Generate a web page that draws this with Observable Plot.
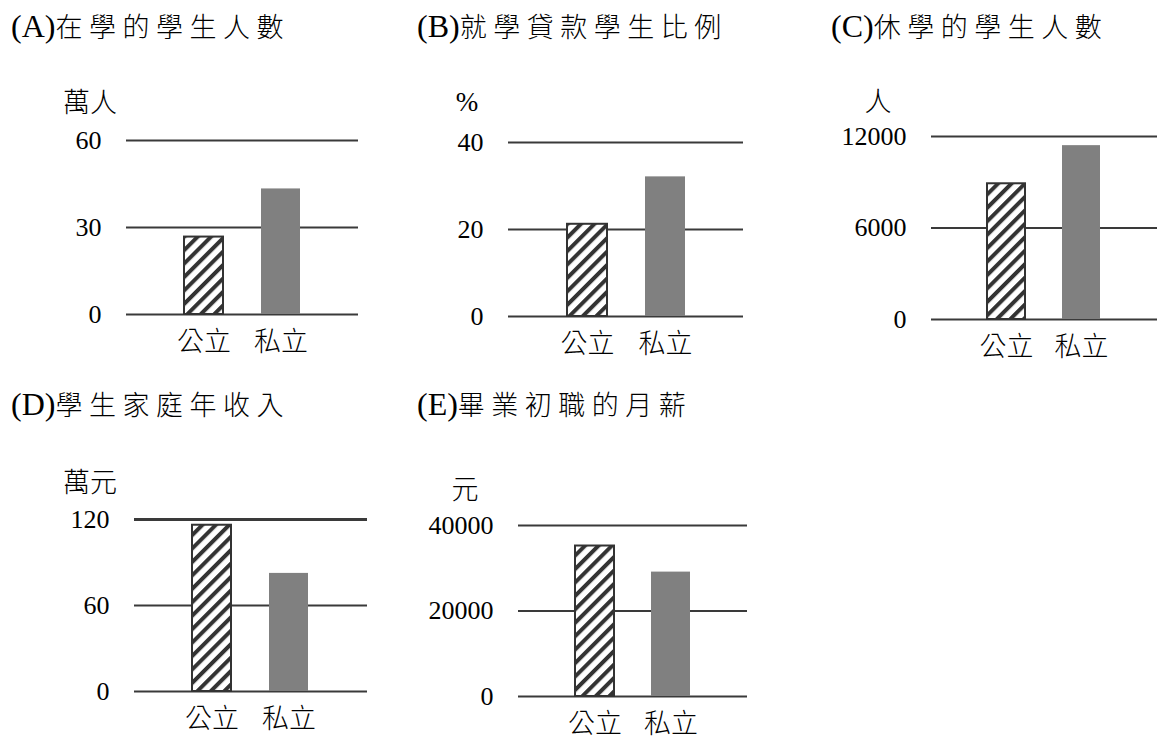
<!DOCTYPE html>
<html>
<head>
<meta charset="utf-8">
<script src="https://cdn.jsdelivr.net/npm/d3@7"></script>
<script src="https://cdn.jsdelivr.net/npm/@observablehq/plot@0.6"></script>
<style>
  html, body { margin: 0; padding: 0; background: #fff; }
  body { width: 1169px; height: 747px; position: relative; overflow: hidden; }
  .abs { position: absolute; white-space: nowrap; color: #000; }
  .title { line-height: 34px; }
  .title .pre { font-family: "Liberation Serif", "Times New Roman", serif; font-size: 32px; }
  .title .zh { font-family: "Noto Sans CJK TC", sans-serif; font-size: 27px; letter-spacing: 6.5px; font-weight: 300; }
  .unit { font-family: "Liberation Serif", "Noto Sans CJK TC", serif; font-size: 27px; line-height: 27px; transform: translate(-50%, -50%); }
  .unit.zh { font-family: "Noto Sans CJK TC", sans-serif; font-weight: 300; }
  svg.plot { position: absolute; overflow: visible; }
</style>
</head>
<body>
<svg width="0" height="0" style="position:absolute">
  <defs>
    <pattern id="hatch" patternUnits="userSpaceOnUse" width="9.5" height="9.5" patternTransform="rotate(45)">
      <rect x="0" y="0" width="9.5" height="9.5" fill="#fff"></rect>
      <rect x="0" y="0" width="4" height="9.5" fill="#333"></rect>
    </pattern>
  </defs>
</svg>
<script>
// ---- data ----
const categories = ["公立", "私立"];

const titlePrefixes = ["(A)", "(B)", "(C)", "(D)", "(E)"];
const titleTexts = ["在學的學生人數", "就學貸款學生比例", "休學的學生人數", "學生家庭年收入", "畢業初職的月薪"];
const units = ["萬人", "%", "人", "萬元", "元"];

const valuesA = [26.7, 43.3];
const valuesB = [21.2, 32.1];
const valuesC = [8900, 11400];
const valuesD = [116, 82.4];
const valuesE = [35200, 29100];

const ticksA = [0, 30, 60];
const ticksB = [0, 20, 40];
const ticksC = [0, 6000, 12000];
const ticksD = [0, 60, 120];
const ticksE = [0, 20000, 40000];

// ---- layout (page positions of each panel) ----
const panels = [
  {values: valuesA, ticks: ticksA, frame: {l: 126, r: 358, t: 140, b: 314}, title: {x: 11, y: 9}, unit: {x: 90, y: 100}},
  {values: valuesB, ticks: ticksB, frame: {l: 508, r: 743, t: 142, b: 316}, title: {x: 417, y: 9}, unit: {x: 467, y: 102}},
  {values: valuesC, ticks: ticksC, frame: {l: 931, r: 1157, t: 136, b: 319}, title: {x: 831, y: 9}, unit: {x: 878, y: 99}},
  {values: valuesD, ticks: ticksD, frame: {l: 134, r: 367, t: 519, b: 691}, title: {x: 11, y: 387}, unit: {x: 90, y: 480}, topRule: 3},
  {values: valuesE, ticks: ticksE, frame: {l: 518, r: 747, t: 525, b: 696}, title: {x: 417, y: 387}, unit: {x: 465, y: 487}}
];

const ML = 110, MT = 20, MR = 15, MB = 50;

panels.forEach((p, i) => {
  const {l, r, t, b} = p.frame;
  const data = categories.map((c, j) => ({cat: c, value: p.values[j]}));
  const maxTick = p.ticks[p.ticks.length - 1];
  const chart = Plot.plot({
    width: (r - l) + ML + MR,
    height: (b - t) + MT + MB,
    marginLeft: ML, marginRight: MR, marginTop: MT, marginBottom: MB,
    x: {type: "band", domain: categories, paddingInner: 0.49, paddingOuter: 0.745, axis: null},
    y: {domain: [0, maxTick], axis: null},
    style: {background: "transparent", overflow: "visible"},
    marks: [
      Plot.ruleY(p.ticks, {
        stroke: "#3a3a3a",
        strokeWidth: d => (p.topRule && d === maxTick) ? p.topRule : 1.8
      }),
      Plot.barY(data.filter(d => d.cat === categories[0]), {
        x: "cat", y: "value", fill: "url(#hatch)", stroke: "#333", strokeWidth: 2, inset: 0
      }),
      Plot.barY(data.filter(d => d.cat === categories[1]), {
        x: "cat", y: "value", fill: "#808080", inset: 0
      }),
      Plot.axisY(p.ticks, {
        tickSize: 0, tickPadding: 25, label: null, tickFormat: d3.format("d"),
        fontFamily: "Liberation Serif", fontSize: 26, fill: "#000"
      }),
      Plot.axisX({
        tickSize: 0, tickPadding: 17, label: null,
        fontFamily: "Noto Sans CJK TC", fontSize: 27, fontWeight: 300, fill: "#000"
      })
    ]
  });
  chart.classList.add("plot");
  chart.style.left = (l - ML) + "px";
  chart.style.top = (t - MT) + "px";
  document.body.appendChild(chart);

  const title = document.createElement("div");
  title.className = "abs title";
  title.style.left = p.title.x + "px";
  title.style.top = p.title.y + "px";
  title.innerHTML = `<span class="pre">${titlePrefixes[i]}</span><span class="zh">${titleTexts[i]}</span>`;
  document.body.appendChild(title);

  const unit = document.createElement("div");
  unit.className = "abs unit" + (/^[%]$/.test(units[i]) ? "" : " zh");
  unit.style.left = p.unit.x + "px";
  unit.style.top = p.unit.y + "px";
  unit.textContent = units[i];
  document.body.appendChild(unit);
});
</script>
</body>
</html>
